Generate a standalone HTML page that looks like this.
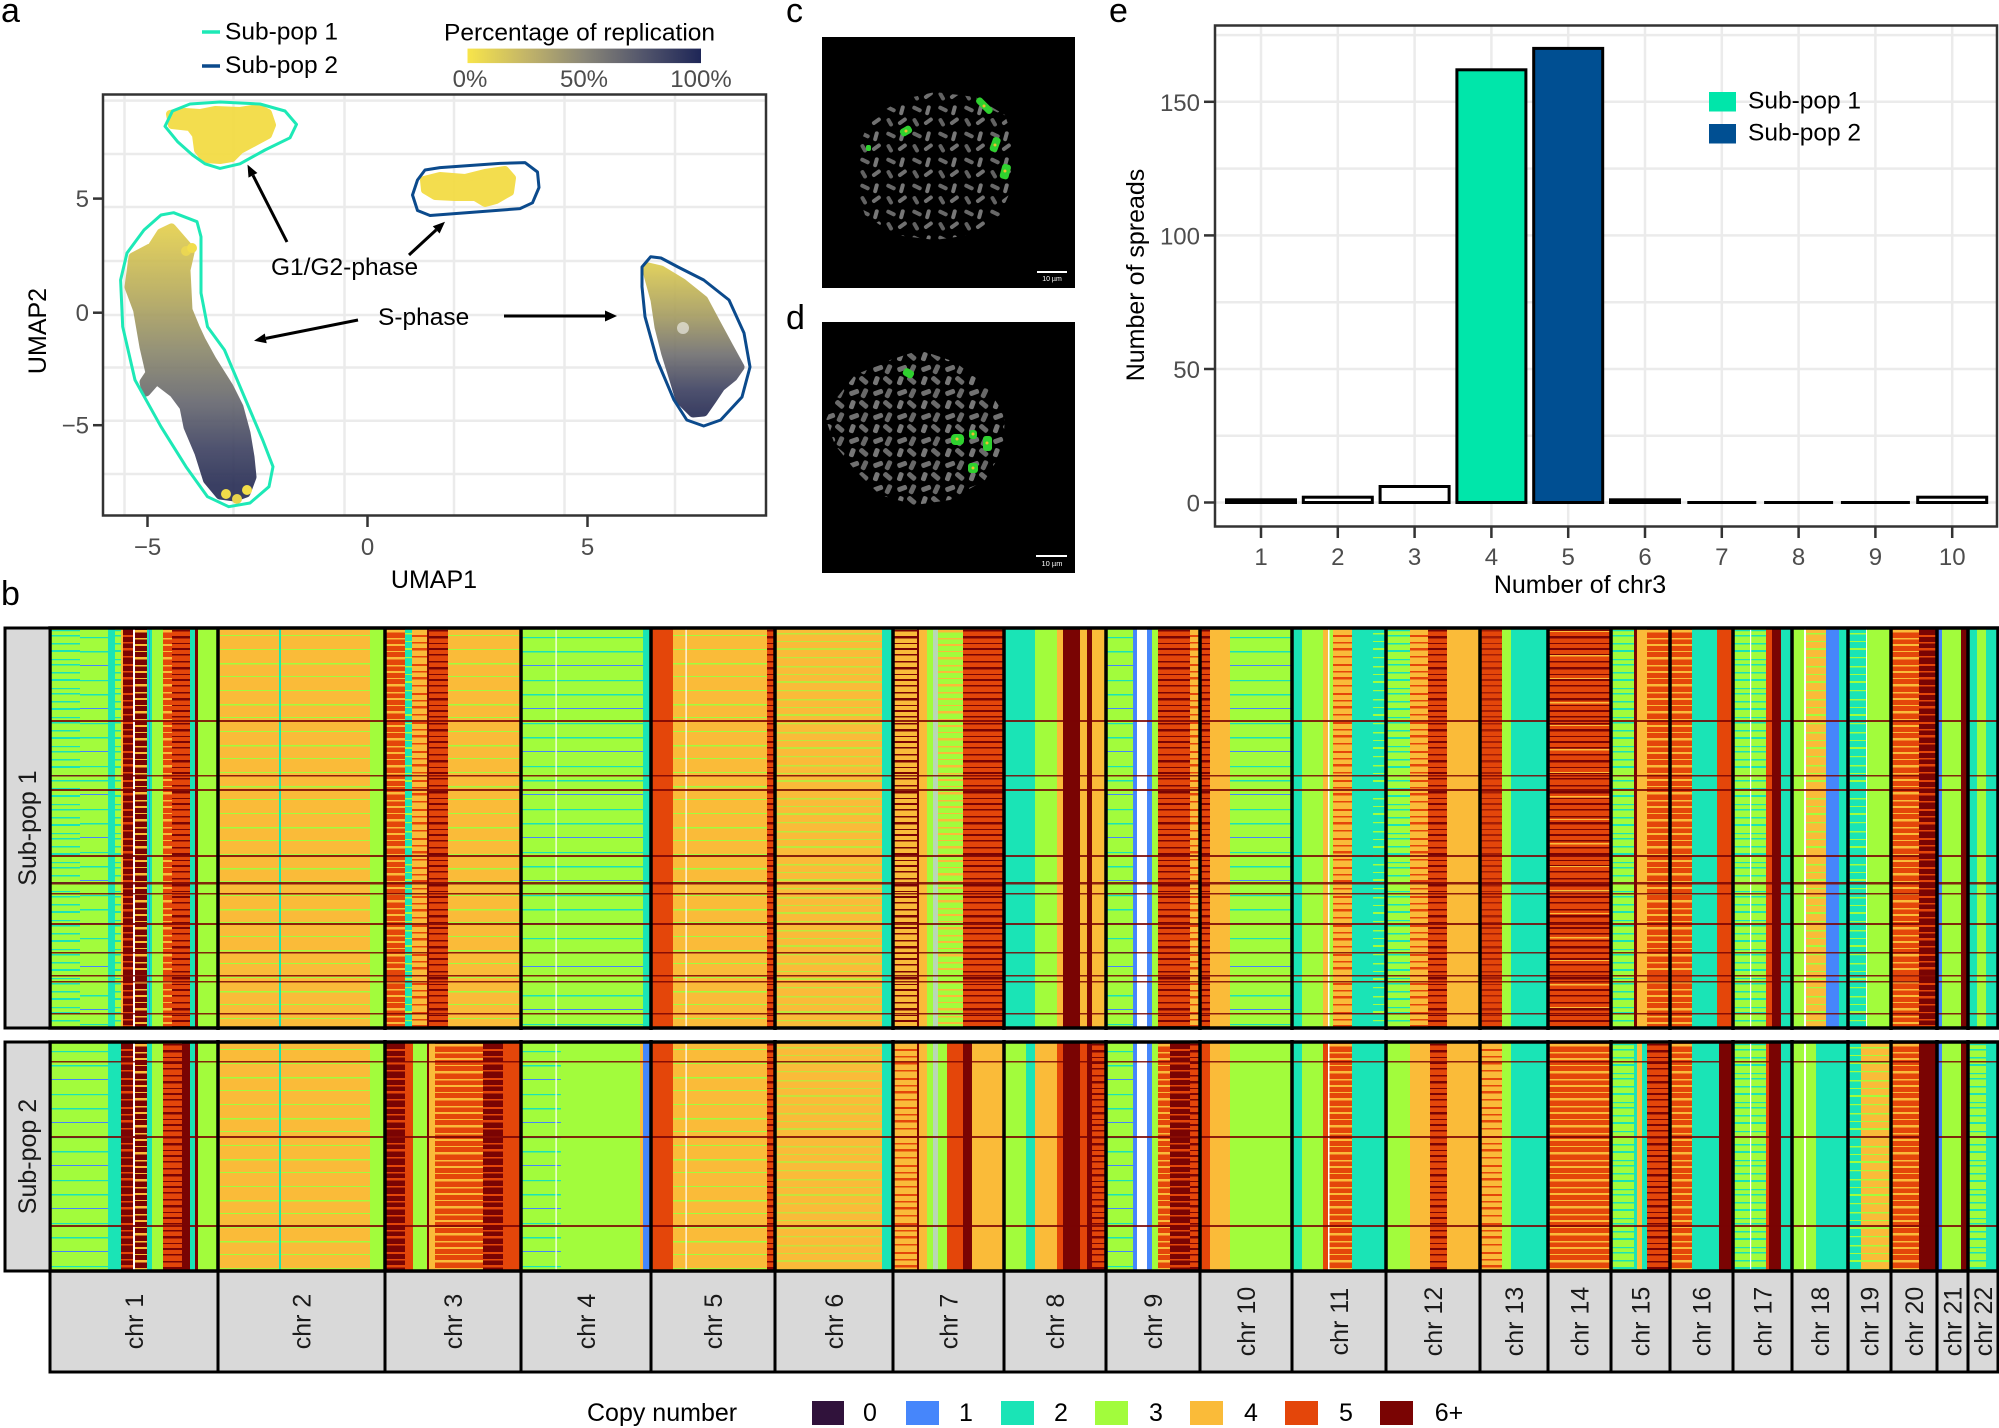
<!DOCTYPE html>
<html><head><meta charset="utf-8"><style>
html,body{margin:0;padding:0;background:#fff}
svg{display:block}
text{font-family:"Liberation Sans",Arial,sans-serif}
.b{fill:#4686fb}.t{fill:#1ae4b6}.l{fill:#a2fc3c}.o{fill:#fabb39}.r{fill:#e4460a}.d{fill:#7a0403}.w{fill:#fff}.g{fill:#b9d7b6}
</style></head><body>
<svg width="1999" height="1428" viewBox="0 0 1999 1428" xmlns="http://www.w3.org/2000/svg">
<defs>
<linearGradient id="cb" x1="0" x2="1" y1="0" y2="0"><stop offset="0" stop-color="#f8e54a"/><stop offset="0.25" stop-color="#c3b568"/><stop offset="0.5" stop-color="#8a8778"/><stop offset="0.75" stop-color="#53566c"/><stop offset="1" stop-color="#1e2657"/></linearGradient>
<linearGradient id="gs1" gradientUnits="userSpaceOnUse" x1="0" y1="228" x2="0" y2="485"><stop offset="0" stop-color="#e3cf4f"/><stop offset="0.28" stop-color="#b3a85f"/><stop offset="0.48" stop-color="#8c896d"/><stop offset="0.68" stop-color="#676870"/><stop offset="0.86" stop-color="#404463"/><stop offset="1" stop-color="#2a2f56"/></linearGradient>
<linearGradient id="gs2" gradientUnits="userSpaceOnUse" x1="0" y1="266" x2="0" y2="413"><stop offset="0" stop-color="#dccb52"/><stop offset="0.35" stop-color="#a49b63"/><stop offset="0.6" stop-color="#727171"/><stop offset="0.85" stop-color="#3e4262"/><stop offset="1" stop-color="#2a2f56"/></linearGradient>
<pattern id="p6" width="8" height="31" patternUnits="userSpaceOnUse"><rect y="2" width="8" height="1.5" fill="#7a0403"/><rect y="8" width="8" height="2.5" fill="#7a0403"/><rect y="15" width="8" height="1" fill="#7a0403"/><rect y="20" width="8" height="2" fill="#7a0403"/><rect y="26" width="8" height="1.5" fill="#7a0403"/></pattern>
<pattern id="p5" width="8" height="29" patternUnits="userSpaceOnUse" patternTransform="translate(0,5)"><rect y="2" width="8" height="2" fill="#e4460a"/><rect y="9" width="8" height="1.5" fill="#e4460a"/><rect y="15" width="8" height="2.5" fill="#e4460a"/><rect y="23" width="8" height="1.5" fill="#e4460a"/></pattern>
<pattern id="p4" width="8" height="27" patternUnits="userSpaceOnUse" patternTransform="translate(0,9)"><rect y="1" width="8" height="1.5" fill="#fabb39"/><rect y="7" width="8" height="2" fill="#fabb39"/><rect y="14" width="8" height="1" fill="#fabb39"/><rect y="20" width="8" height="2.5" fill="#fabb39"/></pattern>
<pattern id="p3" width="8" height="33" patternUnits="userSpaceOnUse" patternTransform="translate(0,3)"><rect y="2" width="8" height="1.5" fill="#a2fc3c"/><rect y="10" width="8" height="1" fill="#a2fc3c"/><rect y="17" width="8" height="2" fill="#a2fc3c"/><rect y="26" width="8" height="1.2" fill="#a2fc3c"/></pattern>
<pattern id="p2" width="8" height="29" patternUnits="userSpaceOnUse" patternTransform="translate(0,12)"><rect y="3" width="8" height="1.5" fill="#1ae4b6"/><rect y="10" width="8" height="2" fill="#1ae4b6"/><rect y="19" width="8" height="1.2" fill="#1ae4b6"/><rect y="24" width="8" height="1.5" fill="#1ae4b6"/></pattern>
<pattern id="q2" width="8" height="43" patternUnits="userSpaceOnUse" patternTransform="translate(0,4)"><rect y="5" width="8" height="1.2" fill="#1ae4b6"/><rect y="19" width="8" height="1.5" fill="#1ae4b6"/><rect y="33" width="8" height="1" fill="#4686fb"/></pattern>
<pattern id="q3" width="8" height="41" patternUnits="userSpaceOnUse" patternTransform="translate(0,17)"><rect y="4" width="8" height="1" fill="#a2fc3c"/><rect y="18" width="8" height="1.5" fill="#a2fc3c"/><rect y="31" width="8" height="1" fill="#a2fc3c"/></pattern>
<pattern id="q4" width="8" height="47" patternUnits="userSpaceOnUse" patternTransform="translate(0,21)"><rect y="6" width="8" height="1.5" fill="#fabb39"/><rect y="29" width="8" height="1" fill="#fabb39"/></pattern>
<pattern id="chrom" width="26" height="26" patternUnits="userSpaceOnUse"><rect x="2" y="3" width="10" height="4" rx="2" fill="#7a7a7a" transform="rotate(25 7 5)"/><rect x="16" y="1" width="4" height="10" rx="2" fill="#8c8c8c" transform="rotate(15 17 6)"/><rect x="3" y="14" width="4" height="9" rx="2" fill="#737373" transform="rotate(-30 5 17)"/><rect x="13" y="16" width="10" height="4" rx="2" fill="#858585" transform="rotate(-35 17 17)"/></pattern>
<pattern id="chrom2" width="24" height="24" patternUnits="userSpaceOnUse" patternTransform="translate(7,3)"><rect x="2" y="3" width="10" height="5" rx="2" fill="#858585" transform="rotate(-20 7 5)"/><rect x="15" y="1" width="5" height="10" rx="2" fill="#7a7a7a" transform="rotate(25 17 6)"/><rect x="3" y="13" width="5" height="9" rx="2" fill="#8c8c8c" transform="rotate(20 5 17)"/><rect x="12" y="15" width="10" height="5" rx="2" fill="#7d7d7d" transform="rotate(40 17 17)"/></pattern>
</defs>

<!-- ============ PANEL A ============ -->
<text x="1" y="22" font-size="34" fill="#000">a</text>
<line x1="202" y1="32" x2="220" y2="32" stroke="#1de9b6" stroke-width="3.5"/>
<text x="225" y="39.5" font-size="24.5" fill="#000">Sub-pop 1</text>
<line x1="202" y1="66" x2="220" y2="66" stroke="#0b4a8c" stroke-width="3.5"/>
<text x="225" y="73" font-size="24.5" fill="#000">Sub-pop 2</text>
<text x="444" y="40.5" font-size="24.5" fill="#000">Percentage of replication</text>
<rect x="467.5" y="48.6" width="233.5" height="14.5" fill="url(#cb)"/>
<text x="470" y="87" font-size="24" fill="#4d4d4d" text-anchor="middle">0%</text>
<text x="584" y="87" font-size="24" fill="#4d4d4d" text-anchor="middle">50%</text>
<text x="701" y="87" font-size="24" fill="#4d4d4d" text-anchor="middle">100%</text>

<g stroke="#ebebeb" stroke-width="2.5">
<line x1="124.5" y1="95" x2="124.5" y2="515"/><line x1="233.5" y1="95" x2="233.5" y2="515"/><line x1="344.5" y1="95" x2="344.5" y2="515"/><line x1="454" y1="95" x2="454" y2="515"/><line x1="564.5" y1="95" x2="564.5" y2="515"/><line x1="675" y1="95" x2="675" y2="515"/>
<line x1="103" y1="100.6" x2="766" y2="100.6"/><line x1="103" y1="154" x2="766" y2="154"/><line x1="103" y1="207" x2="766" y2="207"/><line x1="103" y1="261" x2="766" y2="261"/><line x1="103" y1="315" x2="766" y2="315"/><line x1="103" y1="367.5" x2="766" y2="367.5"/><line x1="103" y1="420.7" x2="766" y2="420.7"/><line x1="103" y1="474" x2="766" y2="474"/>
</g>

<!-- point clouds -->
<polygon points="170,114 185,112 200,113 215,110 240,111 258,108 268,113 272,125 268,135 255,142 240,150 232,158 220,160 205,159 198,150 196,135 190,127 172,125" fill="#f3dc45" stroke="#f3dc45" stroke-width="8" stroke-linejoin="round" opacity="0.95"/>
<polygon points="424,180 440,176 465,178 485,173 505,170 512,178 510,192 496,200 485,203 475,197 455,197 435,196 425,190" fill="#f3dc45" stroke="#f3dc45" stroke-width="8" stroke-linejoin="round" opacity="0.95"/>
<polygon points="171.5,228 190.6,250 186,270 188,310 195,327 201,340 212,360 229,387 239,407 246,433 250,457 252,477 246,493 235,497 220,495 207.5,480 199,453 188,427 184,407 173.6,393 156.6,380 146,392 144,382 150,373 144,347 137.6,310 129,287 133,257 152,247 161,233" fill="url(#gs1)" stroke="url(#gs1)" stroke-width="9" stroke-linejoin="round" opacity="0.92"/>
<circle cx="226" cy="494" r="5" fill="#f0dc4a"/><circle cx="237" cy="499" r="5" fill="#e8d34c"/><circle cx="247" cy="490" r="5" fill="#f3de48"/>
<circle cx="186" cy="251" r="5" fill="#ead653"/><circle cx="192" cy="248" r="5" fill="#f1dd4d"/>
<polygon points="646.5,266.7 661,270 682.5,283 703.7,300 716,323 729,347 740,367 733,377 720.7,387 712,400 703.7,412 693,413 680,400 674,380 665.6,353 659,327 655,300 648.6,276.7" fill="url(#gs2)" stroke="url(#gs2)" stroke-width="9" stroke-linejoin="round" opacity="0.92"/>
<circle cx="683" cy="328" r="6" fill="#fff" opacity="0.55"/>

<!-- outlines -->
<polygon points="165,126.3 172.5,111 190,104 220,102 260,104 285,111 296.5,124.4 290,137.8 265,150 240,163.8 220,168.4 205,163.8 192.5,155 177.5,141.6" fill="none" stroke="#1de9b6" stroke-width="3" stroke-linejoin="round"/>
<polygon points="417.5,180 425,170 440,167.6 500,163.4 525,162.6 537.5,172 539,187.5 532.5,202.8 520,208.6 430,215.5 417.5,210.5 412.5,195" fill="none" stroke="#0b4a8c" stroke-width="3" stroke-linejoin="round"/>
<polygon points="173.6,212.7 197,221.7 201,236.7 201,293 207.5,326.7 224.5,350 245.7,400 262.7,440 273,466.7 269,486.7 250,503 228.7,506.7 207.5,496.7 186,466.7 161,426.7 135,380 122.7,326.7 120.6,280 127,253 144,230 161,215" fill="none" stroke="#1de9b6" stroke-width="3" stroke-linejoin="round"/>
<polygon points="642,267 650.7,256.7 661,258 678,267 703.7,280 729,300 744,333 750,367 742,397 720.7,420 703.7,426 686.8,420 674,400 657,360 645,316.7 642,286.7" fill="none" stroke="#0b4a8c" stroke-width="3" stroke-linejoin="round"/>

<!-- arrows -->
<g stroke="#000" stroke-width="3" fill="none">
<line x1="287" y1="242" x2="253" y2="175.3"/>
<line x1="409" y1="255" x2="436.2" y2="229.9"/>
<line x1="358" y1="320" x2="265.8" y2="338.4"/>
<line x1="504" y1="316" x2="605" y2="316"/>
</g>
<g fill="#000">
<polygon points="247.5,164.6 257.4,173 248.5,177.6"/>
<polygon points="445,221.7 439.6,233.5 432.8,226.2"/>
<polygon points="254,340.7 264.8,333.5 266.7,343.3"/>
<polygon points="617,316 605,310.5 605,321.5"/>
</g>
<text x="271" y="275" font-size="24.5" fill="#000">G1/G2-phase</text>
<text x="378" y="325" font-size="24.5" fill="#000">S-phase</text>

<rect x="103" y="94.5" width="663" height="421" fill="none" stroke="#333" stroke-width="2.5"/>
<g stroke="#333" stroke-width="2.5">
<line x1="93" y1="198.6" x2="103" y2="198.6"/><line x1="93" y1="312.7" x2="103" y2="312.7"/><line x1="93" y1="425.2" x2="103" y2="425.2"/>
<line x1="147.5" y1="516" x2="147.5" y2="527"/><line x1="367.5" y1="516" x2="367.5" y2="527"/><line x1="587.5" y1="516" x2="587.5" y2="527"/>
</g>
<g font-size="24" fill="#4d4d4d">
<text x="89" y="207" text-anchor="end">5</text>
<text x="89" y="321" text-anchor="end">0</text>
<text x="89" y="433.5" text-anchor="end">−5</text>
<text x="147.5" y="555" text-anchor="middle">−5</text>
<text x="367.5" y="555" text-anchor="middle">0</text>
<text x="587.5" y="555" text-anchor="middle">5</text>
</g>
<text x="434" y="588" font-size="25" fill="#000" text-anchor="middle">UMAP1</text>
<text transform="translate(46,331) rotate(-90)" font-size="25" fill="#000" text-anchor="middle">UMAP2</text>

<!-- ============ PANELS C / D ============ -->
<text x="786" y="22" font-size="34" fill="#000">c</text>
<rect x="822" y="37" width="253" height="251" fill="#000"/>
<path d="M870,120 L900,100 L935,92 L975,97 L1005,115 L1015,145 L1013,185 L1000,215 L970,235 L935,240 L895,235 L865,215 L855,185 L857,150 Z" fill="url(#chrom)" opacity="0.85"/>
<g fill="#2fd12f">
<rect x="974" y="102" width="20" height="7" rx="3" transform="rotate(45 984 106)"/>
<rect x="900" y="127" width="12" height="8" rx="3" transform="rotate(-30 906 131)"/>
<rect x="991" y="137" width="8" height="15" rx="3" transform="rotate(20 995 145)"/>
<rect x="1001" y="164" width="9" height="15" rx="3" transform="rotate(15 1005 171)"/>
<rect x="866" y="145" width="5" height="6" rx="2"/>
</g>
<g fill="#f0c030"><circle cx="984" cy="106" r="1.5"/><circle cx="906" cy="131" r="1.5"/><circle cx="995" cy="145" r="1.5"/><circle cx="1005" cy="171" r="1.5"/></g>
<rect x="1037" y="271" width="30" height="2" fill="#fff"/>
<text x="1052" y="281" font-size="7" fill="#fff" text-anchor="middle">10 µm</text>

<text x="786" y="329" font-size="34" fill="#000">d</text>
<rect x="822" y="322" width="253" height="251" fill="#000"/>
<path d="M835,400 L855,375 L890,360 L920,350 L955,362 L985,385 L1005,415 L1003,450 L985,480 L950,500 L915,505 L880,495 L855,470 L835,445 L826,420 Z" fill="url(#chrom2)" opacity="0.85"/>
<g fill="#2fd12f">
<rect x="903" y="369" width="11" height="8" rx="3" transform="rotate(30 908 373)"/>
<rect x="951" y="434" width="13" height="11" rx="4"/>
<rect x="969" y="430" width="8" height="9" rx="3"/>
<rect x="983" y="436" width="9" height="15" rx="3"/>
<rect x="968" y="463" width="10" height="10" rx="3"/>
</g>
<g fill="#f0c030"><circle cx="957" cy="439" r="1.5"/><circle cx="973" cy="434" r="1.5"/><circle cx="987" cy="443" r="1.5"/><circle cx="973" cy="468" r="1.5"/></g>
<rect x="1036" y="555" width="31" height="2" fill="#fff"/>
<text x="1052" y="566" font-size="7.5" fill="#fff" text-anchor="middle">10 µm</text>

<!-- ============ PANEL E ============ -->
<text x="1109" y="22" font-size="34" fill="#000">e</text>
<g stroke="#ebebeb" stroke-width="2.5">
<line x1="1215" y1="35.1" x2="1997" y2="35.1"/><line x1="1215" y1="101.8" x2="1997" y2="101.8"/><line x1="1215" y1="168.6" x2="1997" y2="168.6"/><line x1="1215" y1="235.4" x2="1997" y2="235.4"/><line x1="1215" y1="302.2" x2="1997" y2="302.2"/><line x1="1215" y1="369" x2="1997" y2="369"/><line x1="1215" y1="435.7" x2="1997" y2="435.7"/><line x1="1215" y1="502.5" x2="1997" y2="502.5"/>
<line x1="1261" y1="26" x2="1261" y2="526"/><line x1="1337.8" y1="26" x2="1337.8" y2="526"/><line x1="1414.6" y1="26" x2="1414.6" y2="526"/><line x1="1491.4" y1="26" x2="1491.4" y2="526"/><line x1="1568.2" y1="26" x2="1568.2" y2="526"/><line x1="1645" y1="26" x2="1645" y2="526"/><line x1="1721.8" y1="26" x2="1721.8" y2="526"/><line x1="1798.6" y1="26" x2="1798.6" y2="526"/><line x1="1875.4" y1="26" x2="1875.4" y2="526"/><line x1="1952.2" y1="26" x2="1952.2" y2="526"/>
</g>
<g stroke="#000" stroke-width="3">
<rect x="1226.5" y="499.8" width="69" height="2.7" fill="#000"/>
<rect x="1303.3" y="497.2" width="69" height="5.3" fill="#fff"/>
<rect x="1380.1" y="486.5" width="69" height="16" fill="#fff"/>
<rect x="1456.9" y="69.8" width="69" height="432.7" fill="#00e6aa"/>
<rect x="1533.7" y="48.4" width="69" height="454.1" fill="#004f92"/>
<rect x="1610.5" y="499.8" width="69" height="2.7" fill="#000"/>
<line x1="1687.3" y1="502.5" x2="1756.3" y2="502.5"/>
<line x1="1764.1" y1="502.5" x2="1833.1" y2="502.5"/>
<line x1="1840.9" y1="502.5" x2="1909.9" y2="502.5"/>
<rect x="1917.7" y="497.2" width="69" height="5.3" fill="#fff"/>
</g>
<rect x="1709" y="92" width="27" height="19.5" fill="#00e6aa"/>
<rect x="1709" y="124" width="27" height="19.5" fill="#004f92"/>
<text x="1748" y="108.5" font-size="24.5" fill="#000">Sub-pop 1</text>
<text x="1748" y="140.5" font-size="24.5" fill="#000">Sub-pop 2</text>
<rect x="1215" y="25.5" width="782" height="501" fill="none" stroke="#333" stroke-width="2.5"/>
<g stroke="#333" stroke-width="2.5">
<line x1="1204" y1="101.8" x2="1215" y2="101.8"/><line x1="1204" y1="235.4" x2="1215" y2="235.4"/><line x1="1204" y1="369" x2="1215" y2="369"/><line x1="1204" y1="502.5" x2="1215" y2="502.5"/>
<line x1="1261" y1="527" x2="1261" y2="538"/><line x1="1337.8" y1="527" x2="1337.8" y2="538"/><line x1="1414.6" y1="527" x2="1414.6" y2="538"/><line x1="1491.4" y1="527" x2="1491.4" y2="538"/><line x1="1568.2" y1="527" x2="1568.2" y2="538"/><line x1="1645" y1="527" x2="1645" y2="538"/><line x1="1721.8" y1="527" x2="1721.8" y2="538"/><line x1="1798.6" y1="527" x2="1798.6" y2="538"/><line x1="1875.4" y1="527" x2="1875.4" y2="538"/><line x1="1952.2" y1="527" x2="1952.2" y2="538"/>
</g>
<g font-size="24" fill="#4d4d4d">
<text x="1200" y="111" text-anchor="end">150</text>
<text x="1200" y="244.5" text-anchor="end">100</text>
<text x="1200" y="378" text-anchor="end">50</text>
<text x="1200" y="511.5" text-anchor="end">0</text>
<g text-anchor="middle">
<text x="1261" y="565">1</text><text x="1337.8" y="565">2</text><text x="1414.6" y="565">3</text><text x="1491.4" y="565">4</text><text x="1568.2" y="565">5</text><text x="1645" y="565">6</text><text x="1721.8" y="565">7</text><text x="1798.6" y="565">8</text><text x="1875.4" y="565">9</text><text x="1952.2" y="565">10</text>
</g>
</g>
<text x="1580" y="593" font-size="25" fill="#000" text-anchor="middle">Number of chr3</text>
<text transform="translate(1144,275) rotate(-90)" font-size="25" fill="#000" text-anchor="middle">Number of spreads</text>

<!-- ============ PANEL B ============ -->
<text x="1" y="605" font-size="34" fill="#000">b</text>

<!-- Panel 1 heatmap -->
<g transform="translate(0,628)">
<g>
<rect x="50" y="0" width="58" height="400" class="l"/><rect x="50" y="0" width="30" height="400" fill="url(#p2)"/><rect x="80" y="0" width="28" height="400" fill="url(#q2)"/>
<rect x="108" y="0" width="7" height="400" class="t"/>
<rect x="115" y="0" width="6" height="400" class="l"/><rect x="115" y="0" width="6" height="400" fill="url(#p2)"/>
<rect x="121" y="0" width="2" height="400" class="o"/>
<rect x="123" y="0" width="10" height="400" class="d"/><rect x="123" y="0" width="10" height="400" fill="url(#p5)"/>
<rect x="133" y="0" width="2" height="400" class="w"/>
<rect x="135" y="0" width="12" height="400" class="d"/><rect x="135" y="0" width="12" height="400" fill="url(#p4)"/>
<rect x="147" y="0" width="5" height="400" class="t"/><rect x="149" y="0" width="1" height="400" class="b"/>
<rect x="152" y="0" width="11" height="400" class="l"/>
<rect x="163" y="0" width="9" height="400" class="r"/><rect x="163" y="0" width="9" height="400" fill="url(#p4)"/>
<rect x="172" y="0" width="18" height="400" class="r"/><rect x="172" y="0" width="18" height="400" fill="url(#p6)"/>
<rect x="190" y="0" width="5" height="400" class="t"/>
<rect x="195" y="0" width="3" height="400" class="d"/>
<rect x="198" y="0" width="20" height="400" class="l"/>

<rect x="218" y="0" width="152" height="400" class="o"/><rect x="218" y="0" width="152" height="400" fill="url(#q3)"/>
<rect x="279" y="0" width="2" height="400" class="t"/>
<rect x="370" y="0" width="15" height="400" class="l"/>

<rect x="385" y="0" width="20" height="400" class="r"/><rect x="385" y="0" width="20" height="400" fill="url(#p4)"/>
<rect x="405" y="0" width="7" height="400" class="t"/><rect x="405" y="0" width="7" height="400" fill="url(#p3)"/>
<rect x="412" y="0" width="15" height="400" class="o"/><rect x="412" y="0" width="15" height="400" fill="url(#p5)"/>
<rect x="427" y="0" width="2" height="400" class="d"/>
<rect x="429" y="0" width="19" height="400" class="r"/><rect x="429" y="0" width="19" height="400" fill="url(#p6)"/>
<rect x="448" y="0" width="73" height="400" class="o"/><rect x="448" y="0" width="73" height="400" fill="url(#q3)"/>

<rect x="521" y="0" width="122" height="400" class="l"/><rect x="521" y="0" width="122" height="400" fill="url(#q2)"/>
<rect x="555.5" y="0" width="1.2" height="400" class="w"/>
<rect x="643" y="0" width="8" height="400" class="t"/>

<rect x="651" y="0" width="22" height="400" class="r"/>
<rect x="673" y="0" width="94" height="400" class="o"/><rect x="673" y="0" width="94" height="400" fill="url(#q3)"/>
<rect x="685.5" y="0" width="1.2" height="400" class="w"/>
<rect x="767" y="0" width="8" height="400" class="r"/><rect x="767" y="0" width="8" height="400" fill="url(#p6)"/>

<rect x="775" y="0" width="107" height="400" class="o"/><rect x="775" y="0" width="107" height="400" fill="url(#p3)" opacity="0.7"/>
<rect x="882" y="0" width="11" height="400" class="t"/>

<rect x="893" y="0" width="24" height="400" class="o"/><rect x="893" y="0" width="24" height="400" fill="url(#p6)"/>
<rect x="917" y="0" width="2" height="400" class="d"/>
<rect x="919" y="0" width="8" height="400" class="o"/>
<rect x="927" y="0" width="6" height="400" class="l"/>
<rect x="933" y="0" width="5" height="400" class="g"/>
<rect x="938" y="0" width="25" height="400" class="l"/><rect x="938" y="0" width="25" height="400" fill="url(#p4)"/>
<rect x="963" y="0" width="41" height="400" class="r"/><rect x="963" y="0" width="41" height="400" fill="url(#p6)"/>

<rect x="1004" y="0" width="31" height="400" class="t"/>
<rect x="1035" y="0" width="22" height="400" class="l"/>
<rect x="1057" y="0" width="6" height="400" class="o"/>
<rect x="1063" y="0" width="17" height="400" class="d"/>
<rect x="1080" y="0" width="7" height="400" class="o"/>
<rect x="1087" y="0" width="5" height="400" class="d"/>
<rect x="1092" y="0" width="14" height="400" class="o"/>

<rect x="1106" y="0" width="27" height="400" class="l"/><rect x="1106" y="0" width="27" height="400" fill="url(#q2)"/>
<rect x="1133" y="0" width="4" height="400" class="b"/>
<rect x="1137" y="0" width="10" height="400" class="w"/>
<rect x="1147" y="0" width="5" height="400" class="b"/>
<rect x="1152" y="0" width="6" height="400" class="l"/>
<rect x="1158" y="0" width="32" height="400" class="r"/><rect x="1158" y="0" width="32" height="400" fill="url(#p6)"/>
<rect x="1190" y="0" width="10" height="400" class="o"/><rect x="1190" y="0" width="10" height="400" fill="url(#p5)"/>

<rect x="1200" y="0" width="10" height="400" class="r"/><rect x="1200" y="0" width="10" height="400" fill="url(#p6)"/>
<rect x="1210" y="0" width="20" height="400" class="o"/>
<rect x="1230" y="0" width="62" height="400" class="l"/><rect x="1230" y="0" width="62" height="400" fill="url(#q2)"/>

<rect x="1292" y="0" width="10" height="400" class="t"/>
<rect x="1302" y="0" width="21" height="400" class="l"/>
<rect x="1323" y="0" width="5" height="400" class="o"/>
<rect x="1328" y="0" width="1.5" height="400" class="w"/>
<rect x="1329.5" y="0" width="3.5" height="400" class="l"/>
<rect x="1333" y="0" width="19" height="400" class="o"/><rect x="1333" y="0" width="19" height="400" fill="url(#p5)"/>
<rect x="1352" y="0" width="21" height="400" class="t"/>
<rect x="1373" y="0" width="13" height="400" class="t"/><rect x="1373" y="0" width="13" height="400" fill="url(#p3)"/>

<rect x="1386" y="0" width="24" height="400" class="l"/><rect x="1386" y="0" width="24" height="400" fill="url(#p2)"/>
<rect x="1410" y="0" width="18" height="400" class="o"/><rect x="1410" y="0" width="18" height="400" fill="url(#p5)"/>
<rect x="1428" y="0" width="19" height="400" class="r"/><rect x="1428" y="0" width="19" height="400" fill="url(#p6)"/>
<rect x="1447" y="0" width="33" height="400" class="o"/>

<rect x="1480" y="0" width="22" height="400" class="r"/><rect x="1480" y="0" width="22" height="400" fill="url(#p6)" opacity="0.6"/>
<rect x="1502" y="0" width="9" height="400" class="l"/>
<rect x="1511" y="0" width="37" height="400" class="t"/>

<rect x="1548" y="0" width="63" height="400" class="r"/><rect x="1548" y="0" width="63" height="400" fill="url(#p6)"/><rect x="1548" y="0" width="63" height="400" fill="url(#q4)"/>

<rect x="1611" y="0" width="23" height="400" class="l"/><rect x="1611" y="0" width="23" height="400" fill="url(#p2)"/>
<rect x="1634" y="0" width="3" height="400" class="d"/>
<rect x="1637" y="0" width="10" height="400" class="o"/>
<rect x="1647" y="0" width="23" height="400" class="r"/><rect x="1647" y="0" width="23" height="400" fill="url(#p4)"/>

<rect x="1670" y="0" width="22" height="400" class="r"/><rect x="1670" y="0" width="22" height="400" fill="url(#p4)"/>
<rect x="1692" y="0" width="25" height="400" class="t"/>
<rect x="1717" y="0" width="16" height="400" class="r"/>

<rect x="1733" y="0" width="33" height="400" class="l"/><rect x="1733" y="0" width="33" height="400" fill="url(#p2)"/>
<rect x="1750" y="0" width="1.2" height="400" class="w"/>
<rect x="1766" y="0" width="6" height="400" class="r"/>
<rect x="1772" y="0" width="9" height="400" class="d"/>
<rect x="1781" y="0" width="11" height="400" class="t"/>

<rect x="1792" y="0" width="12" height="400" class="l"/>
<rect x="1804" y="0" width="2" height="400" class="w"/>
<rect x="1806" y="0" width="20" height="400" class="o"/><rect x="1806" y="0" width="20" height="400" fill="url(#p3)"/>
<rect x="1826" y="0" width="13" height="400" class="b"/>
<rect x="1839" y="0" width="9" height="400" class="t"/>

<rect x="1848" y="0" width="18" height="400" class="t"/><rect x="1848" y="0" width="18" height="400" fill="url(#p3)"/>
<rect x="1866" y="0" width="1.2" height="400" class="w"/>
<rect x="1867" y="0" width="24" height="400" class="l"/>

<rect x="1891" y="0" width="28" height="400" class="r"/><rect x="1891" y="0" width="28" height="400" fill="url(#p4)"/>
<rect x="1919" y="0" width="18" height="400" class="d"/><rect x="1919" y="0" width="18" height="400" fill="url(#p5)"/>

<rect x="1937" y="0" width="5" height="400" class="b"/>
<rect x="1942" y="0" width="19" height="400" class="l"/>
<rect x="1961" y="0" width="7" height="400" class="d"/>

<rect x="1968" y="0" width="9" height="400" class="t"/>
<rect x="1977" y="0" width="9" height="400" class="l"/>
<rect x="1986" y="0" width="12" height="400" class="t"/>
</g>
<g fill="#7a0403" opacity="0.85">
<rect x="50" y="92" width="1948" height="2"/><rect x="50" y="147" width="1948" height="1.5"/><rect x="50" y="161" width="1948" height="2"/><rect x="50" y="227" width="1948" height="2"/><rect x="50" y="254" width="1948" height="2.5"/><rect x="50" y="265" width="1948" height="1.5"/><rect x="50" y="295" width="1948" height="2"/><rect x="50" y="324" width="1948" height="1.5"/><rect x="50" y="347" width="1948" height="1.5"/><rect x="50" y="353" width="1948" height="1.5"/><rect x="50" y="385" width="1948" height="1.5"/>
</g>
</g>

<!-- Panel 2 heatmap -->
<g transform="translate(0,1042)">
<g>
<rect x="50" y="0" width="58" height="229" class="l"/><rect x="50" y="0" width="58" height="229" fill="url(#q2)"/>
<rect x="108" y="0" width="13" height="229" class="t"/>
<rect x="121" y="0" width="12" height="229" class="d"/><rect x="121" y="0" width="12" height="229" fill="url(#p5)"/>
<rect x="133" y="0" width="2" height="229" class="w"/>
<rect x="135" y="0" width="12" height="229" class="d"/><rect x="135" y="0" width="12" height="229" fill="url(#p4)"/>
<rect x="147" y="0" width="5" height="229" class="t"/>
<rect x="152" y="0" width="11" height="229" class="l"/>
<rect x="163" y="0" width="19" height="229" class="r"/><rect x="163" y="0" width="19" height="229" fill="url(#p6)"/>
<rect x="182" y="0" width="8" height="229" class="d"/>
<rect x="190" y="0" width="5" height="229" class="t"/>
<rect x="195" y="0" width="3" height="229" class="d"/>
<rect x="198" y="0" width="20" height="229" class="l"/>

<rect x="218" y="0" width="152" height="229" class="o"/><rect x="218" y="0" width="152" height="229" fill="url(#q3)"/>
<rect x="279" y="0" width="2" height="229" class="t"/>
<rect x="370" y="0" width="15" height="229" class="l"/>

<rect x="385" y="0" width="20" height="229" class="d"/><rect x="385" y="0" width="20" height="229" fill="url(#p5)"/>
<rect x="405" y="0" width="8" height="229" class="r"/>
<rect x="413" y="0" width="14" height="229" class="l"/>
<rect x="427" y="0" width="2" height="229" class="d"/>
<rect x="429" y="0" width="6" height="229" class="o"/>
<rect x="435" y="0" width="48" height="229" class="r"/><rect x="435" y="0" width="48" height="229" fill="url(#p4)"/>
<rect x="483" y="0" width="20" height="229" class="d"/><rect x="483" y="0" width="20" height="229" fill="url(#p5)"/>
<rect x="503" y="0" width="18" height="229" class="r"/>

<rect x="521" y="0" width="119" height="229" class="l"/><rect x="521" y="0" width="40" height="229" fill="url(#q2)"/>
<rect x="555.5" y="0" width="1.2" height="229" class="w"/>
<rect x="640" y="0" width="3" height="229" class="o"/>
<rect x="643" y="0" width="8" height="229" class="b"/>

<rect x="651" y="0" width="22" height="229" class="r"/>
<rect x="673" y="0" width="94" height="229" class="o"/><rect x="673" y="0" width="94" height="229" fill="url(#q3)"/>
<rect x="685.5" y="0" width="1.2" height="229" class="w"/>
<rect x="767" y="0" width="8" height="229" class="r"/><rect x="767" y="0" width="8" height="229" fill="url(#p6)"/>

<rect x="775" y="0" width="107" height="229" class="o"/><rect x="775" y="0" width="107" height="229" fill="url(#p3)" opacity="0.6"/>
<rect x="882" y="0" width="11" height="229" class="t"/>

<rect x="893" y="0" width="24" height="229" class="o"/><rect x="893" y="0" width="24" height="229" fill="url(#p5)"/>
<rect x="917" y="0" width="2" height="229" class="d"/>
<rect x="919" y="0" width="8" height="229" class="o"/>
<rect x="927" y="0" width="20" height="229" class="l"/><rect x="933" y="0" width="5" height="229" class="g"/>
<rect x="947" y="0" width="16" height="229" class="r"/>
<rect x="963" y="0" width="9" height="229" class="d"/>
<rect x="972" y="0" width="32" height="229" class="o"/>

<rect x="1004" y="0" width="22" height="229" class="l"/>
<rect x="1026" y="0" width="9" height="229" class="t"/>
<rect x="1035" y="0" width="22" height="229" class="o"/>
<rect x="1057" y="0" width="6" height="229" class="r"/>
<rect x="1063" y="0" width="17" height="229" class="d"/>
<rect x="1080" y="0" width="7" height="229" class="r"/>
<rect x="1087" y="0" width="5" height="229" class="d"/>
<rect x="1092" y="0" width="14" height="229" class="r"/><rect x="1092" y="0" width="14" height="229" fill="url(#p6)"/>

<rect x="1106" y="0" width="27" height="229" class="l"/><rect x="1106" y="0" width="27" height="229" fill="url(#q2)"/>
<rect x="1133" y="0" width="4" height="229" class="b"/>
<rect x="1137" y="0" width="10" height="229" class="w"/>
<rect x="1147" y="0" width="5" height="229" class="b"/>
<rect x="1152" y="0" width="6" height="229" class="l"/>
<rect x="1158" y="0" width="12" height="229" class="r"/><rect x="1158" y="0" width="12" height="229" fill="url(#p4)"/>
<rect x="1170" y="0" width="20" height="229" class="d"/><rect x="1170" y="0" width="20" height="229" fill="url(#p5)"/>
<rect x="1190" y="0" width="10" height="229" class="r"/><rect x="1190" y="0" width="10" height="229" fill="url(#p6)"/>

<rect x="1200" y="0" width="10" height="229" class="r"/>
<rect x="1210" y="0" width="20" height="229" class="o"/>
<rect x="1230" y="0" width="62" height="229" class="l"/>

<rect x="1292" y="0" width="10" height="229" class="t"/>
<rect x="1302" y="0" width="21" height="229" class="l"/>
<rect x="1323" y="0" width="5" height="229" class="r"/>
<rect x="1328" y="0" width="1.5" height="229" class="w"/>
<rect x="1329.5" y="0" width="22.5" height="229" class="r"/><rect x="1329.5" y="0" width="22.5" height="229" fill="url(#p4)"/>
<rect x="1352" y="0" width="34" height="229" class="t"/>

<rect x="1386" y="0" width="24" height="229" class="l"/>
<rect x="1410" y="0" width="20" height="229" class="o"/>
<rect x="1430" y="0" width="17" height="229" class="r"/><rect x="1430" y="0" width="17" height="229" fill="url(#p6)"/>
<rect x="1447" y="0" width="33" height="229" class="o"/>

<rect x="1480" y="0" width="22" height="229" class="o"/><rect x="1480" y="0" width="22" height="229" fill="url(#p5)"/>
<rect x="1502" y="0" width="9" height="229" class="l"/>
<rect x="1511" y="0" width="37" height="229" class="t"/>

<rect x="1548" y="0" width="63" height="229" class="r"/><rect x="1548" y="0" width="63" height="229" fill="url(#p4)"/>

<rect x="1611" y="0" width="23" height="229" class="l"/><rect x="1611" y="0" width="23" height="229" fill="url(#p2)"/>
<rect x="1634" y="0" width="3" height="229" class="t"/>
<rect x="1637" y="0" width="5" height="229" class="o"/>
<rect x="1642" y="0" width="5" height="229" class="t"/>
<rect x="1647" y="0" width="23" height="229" class="r"/><rect x="1647" y="0" width="23" height="229" fill="url(#p6)"/>

<rect x="1670" y="0" width="22" height="229" class="r"/><rect x="1670" y="0" width="22" height="229" fill="url(#p4)"/>
<rect x="1692" y="0" width="27" height="229" class="t"/>
<rect x="1719" y="0" width="14" height="229" class="d"/>

<rect x="1733" y="0" width="33" height="229" class="l"/><rect x="1733" y="0" width="33" height="229" fill="url(#p2)"/>
<rect x="1750" y="0" width="1.2" height="229" class="w"/>
<rect x="1766" y="0" width="3" height="229" class="r"/>
<rect x="1769" y="0" width="12" height="229" class="d"/>
<rect x="1781" y="0" width="11" height="229" class="t"/>

<rect x="1792" y="0" width="12" height="229" class="l"/>
<rect x="1804" y="0" width="2" height="229" class="w"/>
<rect x="1806" y="0" width="10" height="229" class="l"/>
<rect x="1816" y="0" width="32" height="229" class="t"/>

<rect x="1848" y="0" width="13" height="229" class="t"/><rect x="1848" y="0" width="13" height="229" fill="url(#p3)"/>
<rect x="1861" y="0" width="30" height="229" class="o"/><rect x="1861" y="0" width="30" height="229" fill="url(#p3)"/>

<rect x="1891" y="0" width="28" height="229" class="r"/><rect x="1891" y="0" width="28" height="229" fill="url(#p4)"/>
<rect x="1919" y="0" width="18" height="229" class="d"/>

<rect x="1937" y="0" width="5" height="229" class="b"/>
<rect x="1942" y="0" width="19" height="229" class="l"/>
<rect x="1961" y="0" width="7" height="229" class="d"/>

<rect x="1968" y="0" width="18" height="229" class="l"/><rect x="1968" y="0" width="18" height="229" fill="url(#p2)"/>
<rect x="1986" y="0" width="12" height="229" class="t"/>
</g>
<g fill="#7a0403" opacity="0.85">
<rect x="50" y="19" width="1948" height="1.5"/><rect x="50" y="94" width="1948" height="2"/><rect x="50" y="183" width="1948" height="2"/>
</g>
</g>

<!-- chromosome separators -->
<g stroke="#000" stroke-width="3.5">
<line x1="218" y1="628" x2="218" y2="1372"/><line x1="385" y1="628" x2="385" y2="1372"/><line x1="521" y1="628" x2="521" y2="1372"/><line x1="651" y1="628" x2="651" y2="1372"/><line x1="775" y1="628" x2="775" y2="1372"/><line x1="893" y1="628" x2="893" y2="1372"/><line x1="1004" y1="628" x2="1004" y2="1372"/><line x1="1106" y1="628" x2="1106" y2="1372"/><line x1="1200" y1="628" x2="1200" y2="1372"/><line x1="1292" y1="628" x2="1292" y2="1372"/><line x1="1386" y1="628" x2="1386" y2="1372"/><line x1="1480" y1="628" x2="1480" y2="1372"/><line x1="1548" y1="628" x2="1548" y2="1372"/><line x1="1611" y1="628" x2="1611" y2="1372"/><line x1="1670" y1="628" x2="1670" y2="1372"/><line x1="1733" y1="628" x2="1733" y2="1372"/><line x1="1792" y1="628" x2="1792" y2="1372"/><line x1="1848" y1="628" x2="1848" y2="1372"/><line x1="1891" y1="628" x2="1891" y2="1372"/><line x1="1937" y1="628" x2="1937" y2="1372"/><line x1="1968" y1="628" x2="1968" y2="1372"/>
</g>
<rect x="0" y="1030" width="1999" height="10" fill="#fff"/>

<!-- chromosome label strip -->
<g fill="#d9d9d9" stroke="#000" stroke-width="3">
<rect x="50" y="1271" width="168" height="101"/><rect x="218" y="1271" width="167" height="101"/><rect x="385" y="1271" width="136" height="101"/><rect x="521" y="1271" width="130" height="101"/><rect x="651" y="1271" width="124" height="101"/><rect x="775" y="1271" width="118" height="101"/><rect x="893" y="1271" width="111" height="101"/><rect x="1004" y="1271" width="102" height="101"/><rect x="1106" y="1271" width="94" height="101"/><rect x="1200" y="1271" width="92" height="101"/><rect x="1292" y="1271" width="94" height="101"/><rect x="1386" y="1271" width="94" height="101"/><rect x="1480" y="1271" width="68" height="101"/><rect x="1548" y="1271" width="63" height="101"/><rect x="1611" y="1271" width="59" height="101"/><rect x="1670" y="1271" width="63" height="101"/><rect x="1733" y="1271" width="59" height="101"/><rect x="1792" y="1271" width="56" height="101"/><rect x="1848" y="1271" width="43" height="101"/><rect x="1891" y="1271" width="46" height="101"/><rect x="1937" y="1271" width="31" height="101"/><rect x="1968" y="1271" width="30" height="101"/>
</g>
<g font-size="25" fill="#1a1a1a" text-anchor="middle">
<text transform="translate(143,1321.5) rotate(-90)">chr 1</text>
<text transform="translate(310.5,1321.5) rotate(-90)">chr 2</text>
<text transform="translate(462,1321.5) rotate(-90)">chr 3</text>
<text transform="translate(595,1321.5) rotate(-90)">chr 4</text>
<text transform="translate(722,1321.5) rotate(-90)">chr 5</text>
<text transform="translate(843,1321.5) rotate(-90)">chr 6</text>
<text transform="translate(957.5,1321.5) rotate(-90)">chr 7</text>
<text transform="translate(1064,1321.5) rotate(-90)">chr 8</text>
<text transform="translate(1162,1321.5) rotate(-90)">chr 9</text>
<text transform="translate(1255,1321.5) rotate(-90)">chr 10</text>
<text transform="translate(1348,1321.5) rotate(-90)">chr 11</text>
<text transform="translate(1442,1321.5) rotate(-90)">chr 12</text>
<text transform="translate(1523,1321.5) rotate(-90)">chr 13</text>
<text transform="translate(1588.5,1321.5) rotate(-90)">chr 14</text>
<text transform="translate(1649.5,1321.5) rotate(-90)">chr 15</text>
<text transform="translate(1710.5,1321.5) rotate(-90)">chr 16</text>
<text transform="translate(1771.5,1321.5) rotate(-90)">chr 17</text>
<text transform="translate(1829,1321.5) rotate(-90)">chr 18</text>
<text transform="translate(1878.5,1321.5) rotate(-90)">chr 19</text>
<text transform="translate(1923,1321.5) rotate(-90)">chr 20</text>
<text transform="translate(1961.5,1321.5) rotate(-90)">chr 21</text>
<text transform="translate(1992,1321.5) rotate(-90)">chr 22</text>
</g>

<!-- panel borders -->
<rect x="50" y="628" width="1948" height="400" fill="none" stroke="#000" stroke-width="3.5"/>
<rect x="50" y="1042" width="1948" height="229" fill="none" stroke="#000" stroke-width="3.5"/>
<rect x="5" y="628" width="45" height="400" fill="#d9d9d9" stroke="#000" stroke-width="3"/>
<rect x="5" y="1042" width="45" height="229" fill="#d9d9d9" stroke="#000" stroke-width="3"/>
<text transform="translate(36,828) rotate(-90)" font-size="25" fill="#1a1a1a" text-anchor="middle">Sub-pop 1</text>
<text transform="translate(36,1156.5) rotate(-90)" font-size="25" fill="#1a1a1a" text-anchor="middle">Sub-pop 2</text>

<!-- copy number legend -->
<text x="587" y="1421" font-size="25" fill="#000">Copy number</text>
<rect x="812" y="1401" width="32" height="24" fill="#30123b"/>
<rect x="906" y="1401" width="33" height="24" fill="#4686fb"/>
<rect x="1001" y="1401" width="33" height="24" fill="#1ae4b6"/>
<rect x="1095" y="1401" width="33" height="24" fill="#a2fc3c"/>
<rect x="1190" y="1401" width="33" height="24" fill="#fabb39"/>
<rect x="1285" y="1401" width="33" height="24" fill="#e4460a"/>
<rect x="1380" y="1401" width="33" height="24" fill="#7a0403"/>
<g font-size="25" fill="#000" text-anchor="middle">
<text x="870" y="1421">0</text><text x="966" y="1421">1</text><text x="1061" y="1421">2</text><text x="1156" y="1421">3</text><text x="1251" y="1421">4</text><text x="1346" y="1421">5</text><text x="1449" y="1421">6+</text>
</g>
</svg>
</body></html>
